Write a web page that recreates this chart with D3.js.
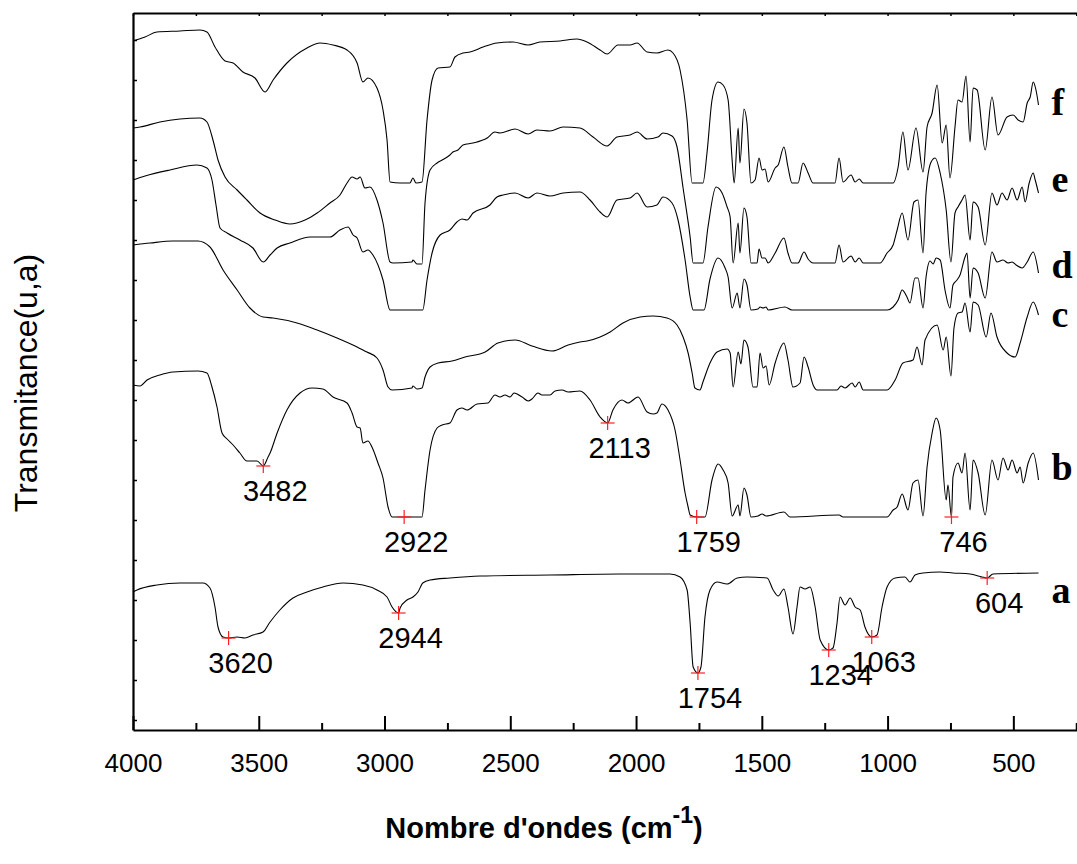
<!DOCTYPE html>
<html><head><meta charset="utf-8">
<script src="https://cdn.jsdelivr.net/npm/d3@7"></script>
<style>body{margin:0;background:#fff} svg{display:block}</style>
</head><body><svg id="chart" width="1077" height="864"></svg>
<script>
// ---------- data (wavenumber cm-1, transmittance a.u.) ----------
const seriesNames = ["a", "b", "c", "d", "e", "f"];

const specA = [[4000,138],[3984,140],[3905,145],[3813,147],[3722,147],[3694,142],[3674,123],[3662,103],[3642,93],[3620,92],[3586,93],[3555,92],[3523,95],[3483,98],[3455,108],[3416,120],[3364,132],[3308,138],[3245,143],[3165,147],[3086,145],[3030,140],[2990,133],[2970,123],[2944,117],[2938,122],[2911,130],[2887,133],[2867,138],[2848,147],[2819,150],[2740,152],[2620,154],[2342,155],[2064,156],[1865,156],[1825,153],[1797,140],[1785,107],[1773,63],[1754,57],[1742,63],[1726,113],[1706,140],[1678,148],[1638,146],[1598,152],[1559,153],[1479,152],[1455,140],[1435,134],[1412,141],[1396,123],[1376,96],[1360,123],[1348,143],[1328,141],[1308,143],[1288,123],[1268,90],[1234,80],[1217,82],[1201,107],[1189,133],[1169,125],[1149,132],[1129,123],[1109,120],[1090,103],[1063,93],[1042,95],[1022,123],[1002,143],[970,152],[931,153],[911,148],[891,155],[859,157],[791,158],[740,157],[672,156],[624,153],[604,152],[581,156],[400,157]];

const specB = [[4000,345],[3972,344],[3944,350],[3893,355],[3841,358],[3742,359],[3706,357],[3686,343],[3666,323],[3646,297],[3626,291],[3602,285],[3575,277],[3547,269],[3507,269],[3482,264],[3463,273],[3455,277],[3427,297],[3388,320],[3336,337],[3288,342],[3245,341],[3205,333],[3149,327],[3129,317],[3109,303],[3097,302],[3086,287],[3066,289],[3050,283],[3026,267],[3006,252],[2986,223],[2970,213],[2922,213],[2851,213],[2839,240],[2819,280],[2791,302],[2771,305],[2740,307],[2712,320],[2692,322],[2672,320],[2632,326],[2589,327],[2561,335],[2541,333],[2521,335],[2501,333],[2485,337],[2453,333],[2429,329],[2414,331],[2390,337],[2374,335],[2342,335],[2322,339],[2294,340],[2270,338],[2223,339],[2183,330],[2143,313],[2113,307],[2092,320],[2056,330],[2032,327],[1992,333],[1956,318],[1932,316],[1917,317],[1897,326],[1873,320],[1845,300],[1825,270],[1805,237],[1793,223],[1785,215],[1759,213],[1726,213],[1698,250],[1674,266],[1654,260],[1634,247],[1618,214],[1594,225],[1587,214],[1571,242],[1559,235],[1543,213],[1515,214],[1499,216],[1483,214],[1412,218],[1388,213],[1193,215],[1177,213],[1002,213],[978,220],[962,223],[942,236],[919,220],[899,247],[879,250],[859,214],[843,263],[823,297],[807,312],[791,300],[767,230],[760,245],[746,213],[740,253],[720,267],[704,257],[692,277],[672,220],[660,270],[640,257],[612,215],[585,270],[561,250],[541,272],[521,260],[505,270],[485,257],[473,263],[461,247],[441,267],[421,277],[400,250]];

const specC = [[4000,485],[3932,487],[3841,489],[3742,489],[3694,483],[3642,460],[3586,440],[3535,422],[3483,413],[3443,412],[3348,407],[3268,400],[3189,392],[3109,383],[3070,378],[3030,372],[3006,360],[2986,343],[2970,340],[2891,342],[2887,344],[2871,341],[2851,342],[2839,353],[2819,363],[2787,367],[2732,369],[2680,373],[2600,378],[2549,387],[2481,390],[2414,384],[2334,379],[2270,385],[2223,388],[2195,389],[2143,393],[2103,398],[2052,407],[1984,413],[1932,414],[1877,412],[1837,405],[1813,393],[1793,377],[1777,357],[1766,342],[1746,340],[1734,348],[1706,367],[1678,378],[1638,381],[1626,377],[1614,343],[1594,378],[1583,366],[1571,390],[1555,383],[1535,343],[1519,343],[1507,377],[1495,362],[1483,364],[1471,345],[1447,367],[1412,387],[1396,370],[1376,343],[1348,347],[1332,373],[1316,363],[1296,345],[1280,340],[1201,340],[1185,344],[1169,342],[1141,347],[1129,343],[1113,348],[1097,340],[1002,340],[970,350],[939,367],[899,370],[883,383],[863,365],[851,390],[803,405],[779,380],[767,393],[748,354],[736,402],[720,417],[704,418],[692,427],[672,398],[660,428],[640,425],[608,393],[589,417],[565,393],[525,377],[493,373],[473,387],[445,413],[421,428],[400,415]];

const specD = [[4000,550],[3952,554],[3853,560],[3746,565],[3706,562],[3686,550],[3670,525],[3654,502],[3626,497],[3575,490],[3523,482],[3482,468],[3455,475],[3427,482],[3376,487],[3296,493],[3217,493],[3177,500],[3145,503],[3125,495],[3109,492],[3086,478],[3066,480],[3046,475],[3006,450],[2978,420],[2848,420],[2831,450],[2811,477],[2779,495],[2740,500],[2712,508],[2692,511],[2672,510],[2648,517],[2581,525],[2553,533],[2529,535],[2481,537],[2429,532],[2394,537],[2342,534],[2290,537],[2223,538],[2183,530],[2143,518],[2115,513],[2076,530],[2024,532],[1996,537],[1956,523],[1917,525],[1893,533],[1857,527],[1833,510],[1805,470],[1785,433],[1773,420],[1730,420],[1706,451],[1674,472],[1646,462],[1634,453],[1618,422],[1598,437],[1587,422],[1571,451],[1559,445],[1543,420],[1515,421],[1507,423],[1495,422],[1483,423],[1475,420],[1408,423],[1380,420],[1002,420],[978,423],[958,430],[942,440],[923,433],[911,427],[891,452],[879,452],[859,422],[847,453],[831,469],[819,466],[807,472],[791,470],[771,439],[752,422],[740,445],[724,450],[712,455],[692,473],[684,477],[672,432],[660,462],[640,457],[612,432],[585,478],[565,468],[541,470],[521,467],[505,468],[489,465],[465,462],[445,468],[421,478],[400,457]];

const specE = [[4000,602],[3972,603],[3893,608],[3813,611],[3734,612],[3706,608],[3682,590],[3662,570],[3634,553],[3586,540],[3547,530],[3495,517],[3435,510],[3376,506],[3316,510],[3268,517],[3217,527],[3177,535],[3149,547],[3129,553],[3109,551],[3097,553],[3078,542],[3058,543],[3030,530],[3006,507],[2978,468],[2966,467],[2891,468],[2887,470],[2871,466],[2851,466],[2839,527],[2819,560],[2791,567],[2771,570],[2740,575],[2728,578],[2708,580],[2688,585],[2648,587],[2592,592],[2561,598],[2541,597],[2481,601],[2429,596],[2394,600],[2342,599],[2290,603],[2223,602],[2171,593],[2115,584],[2076,593],[2024,595],[1996,598],[1956,591],[1913,593],[1893,597],[1857,594],[1837,583],[1813,542],[1785,493],[1773,467],[1734,467],[1714,503],[1682,543],[1658,537],[1638,523],[1626,513],[1614,467],[1594,507],[1587,477],[1571,522],[1559,513],[1543,467],[1519,467],[1511,481],[1499,472],[1487,472],[1475,467],[1447,477],[1412,492],[1396,477],[1380,467],[1356,467],[1332,478],[1316,471],[1296,467],[1209,467],[1193,485],[1177,468],[1145,474],[1129,468],[1113,472],[1097,467],[1030,467],[1002,477],[978,485],[962,500],[942,517],[919,490],[895,528],[879,530],[859,477],[847,537],[827,568],[811,572],[791,557],[767,520],[748,468],[732,517],[720,523],[704,530],[692,535],[672,490],[660,528],[640,523],[612,485],[585,537],[565,525],[545,537],[525,530],[505,542],[485,530],[465,543],[453,528],[437,547],[421,557],[413,550],[400,537]];

const specF = [[4000,689],[3952,693],[3905,698],[3813,699],[3734,700],[3706,698],[3674,683],[3634,669],[3602,667],[3563,658],[3515,652],[3475,638],[3443,650],[3388,667],[3308,682],[3256,687],[3205,685],[3149,680],[3109,667],[3086,648],[3066,652],[3030,642],[3006,620],[2990,590],[2978,548],[2938,547],[2899,547],[2887,552],[2875,547],[2851,548],[2831,610],[2811,650],[2787,662],[2740,663],[2720,673],[2688,677],[2660,678],[2608,683],[2553,687],[2489,688],[2429,685],[2382,688],[2302,689],[2235,691],[2195,688],[2143,680],[2115,676],[2072,685],[2024,685],[1996,687],[1956,678],[1917,677],[1873,680],[1853,677],[1825,660],[1797,610],[1777,547],[1734,547],[1718,577],[1698,630],[1674,648],[1654,645],[1634,630],[1618,570],[1610,547],[1594,602],[1587,567],[1571,621],[1559,607],[1543,547],[1527,550],[1511,572],[1499,560],[1487,561],[1475,548],[1447,562],[1435,565],[1412,583],[1396,563],[1380,547],[1356,547],[1336,567],[1316,557],[1296,547],[1209,547],[1193,572],[1177,548],[1145,555],[1129,548],[1113,551],[1097,547],[978,547],[958,563],[939,598],[919,560],[887,602],[859,558],[843,603],[823,617],[803,645],[783,587],[767,605],[752,552],[732,603],[720,630],[704,628],[688,654],[672,588],[660,642],[644,640],[612,580],[585,633],[561,595],[525,613],[501,615],[481,610],[461,608],[445,627],[433,633],[421,648],[410,640],[400,625]];

const spectra = [specA, specB, specC, specD, specE, specF];

// peaks marked on the spectra
const peaksA = [3620, 2944, 1754, 1234, 1063, 604];
const peaksB = [3482, 2922, 2113, 1759, 746];

// series letter label heights (a.u.)
const seriesLabelValues = [127, 250, 403, 452, 538, 615];
const seriesLabelWn = 348;

// axis ticks
const xMajorTicks = [4000, 3500, 3000, 2500, 2000, 1500, 1000, 500];
const xMinorTicks = [3750, 3250, 2750, 2250, 1750, 1250, 750, 250];
const yTicks = d3.range(10, 717, 40);

// ---------- drawing ----------
const svg = d3.select("#chart");
svg.append("rect").attr("width", 1077).attr("height", 864).attr("fill", "#fff");

const x = d3.scaleLinear().domain([4000, 235]).range([133, 1080]);
const y = d3.scaleLinear().domain([0, 717]).range([730, 13]);

const sans = "'Liberation Sans', Arial, Helvetica, sans-serif";
const serif = "'Liberation Serif', 'Times New Roman', serif";

// bottom axis
const gB = svg.append("g").attr("transform", "translate(0,730)");
gB.call(d3.axisBottom(x).tickValues(xMajorTicks).tickSizeInner(-14).tickSizeOuter(0).tickPadding(24).tickFormat(d3.format("d")));
gB.append("g").call(d3.axisBottom(x).tickValues(xMinorTicks).tickSizeInner(-7).tickSizeOuter(0).tickFormat(""))
  .select(".domain").remove();
gB.selectAll("text").attr("font-family", sans).attr("font-size", 26).attr("fill", "#000");
gB.selectAll(".domain").attr("stroke-width", 2.2);
gB.selectAll(".tick line").attr("stroke-width", 2);

// top axis (frame)
const gT = svg.append("g").attr("transform", "translate(0,13)");
gT.call(d3.axisTop(x).tickValues(xMajorTicks.concat(xMinorTicks)).tickSizeInner(-3).tickSizeOuter(0).tickFormat(""));
gT.selectAll(".domain").attr("stroke-width", 2.2);
gT.selectAll(".tick line").attr("stroke-width", 1.5);

// left axis
const gL = svg.append("g").attr("transform", "translate(133,0)");
gL.call(d3.axisLeft(y).tickValues(yTicks).tickSizeInner(-4).tickSizeOuter(0).tickFormat(""));
gL.selectAll(".domain").attr("stroke-width", 2.2);
gL.selectAll(".tick line").attr("stroke-width", 1.5);

// spectra (drawn in increasing-x order so a monotone curve can smooth them)
const line = d3.line().x(d => x(d[0])).y(d => y(d[1])).curve(d3.curveMonotoneX);
svg.append("g").selectAll("path").data(spectra).join("path")
  .attr("d", d => line(d.slice().reverse())).attr("fill", "none").attr("stroke", "#000")
  .attr("stroke-width", 1.1).attr("stroke-linejoin", "round");

// interpolate a spectrum at a given wavenumber
function valueAt(spec, wn) {
  for (let i = 0; i < spec.length - 1; i++) {
    const [w0, v0] = spec[i], [w1, v1] = spec[i + 1];
    if (wn <= w0 && wn >= w1) {
      const t = (w0 === w1) ? 0 : (w0 - wn) / (w0 - w1);
      return v0 + t * (v1 - v0);
    }
  }
  return spec[spec.length - 1][1];
}

// peak markers and labels
const peakItems = peaksA.map(p => ({wn: p, v: valueAt(specA, p)}))
  .concat(peaksB.map(p => ({wn: p, v: valueAt(specB, p)})));
const gP = svg.append("g");
peakItems.forEach(p => {
  const cx = x(p.wn), cy = y(p.v);
  gP.append("line").attr("x1", cx - 7).attr("x2", cx + 7).attr("y1", cy).attr("y2", cy)
    .attr("stroke", "#ff2020").attr("stroke-width", 1.2);
  gP.append("line").attr("x1", cx).attr("x2", cx).attr("y1", cy - 7).attr("y2", cy + 7)
    .attr("stroke", "#ff2020").attr("stroke-width", 1.2);
  gP.append("text").attr("x", cx + 12).attr("y", cy + 35).attr("text-anchor", "middle")
    .attr("font-family", sans).attr("font-size", 29).attr("fill", "#000").text(p.wn);
});

// series letters
svg.append("g").selectAll("text").data(seriesNames).join("text")
  .attr("x", x(seriesLabelWn)).attr("y", (d, i) => y(seriesLabelValues[i]))
  .attr("font-family", serif).attr("font-weight", "bold").attr("font-size", 38)
  .attr("fill", "#000").text(d => d);

// axis titles
const xt = svg.append("text").attr("x", 544).attr("y", 838).attr("text-anchor", "middle")
  .attr("font-family", sans).attr("font-weight", "bold").attr("font-size", 29).attr("fill", "#000");
xt.append("tspan").text("Nombre d'ondes (cm");
xt.append("tspan").attr("dy", -15).attr("font-size", 23).text("-1");
xt.append("tspan").attr("dy", 15).text(")");

svg.append("text").attr("transform", "translate(37,383) rotate(-90)").attr("text-anchor", "middle")
  .attr("font-family", sans).attr("font-size", 32).attr("fill", "#000").text("Transmitance(u,a)");
</script>
</body></html>
